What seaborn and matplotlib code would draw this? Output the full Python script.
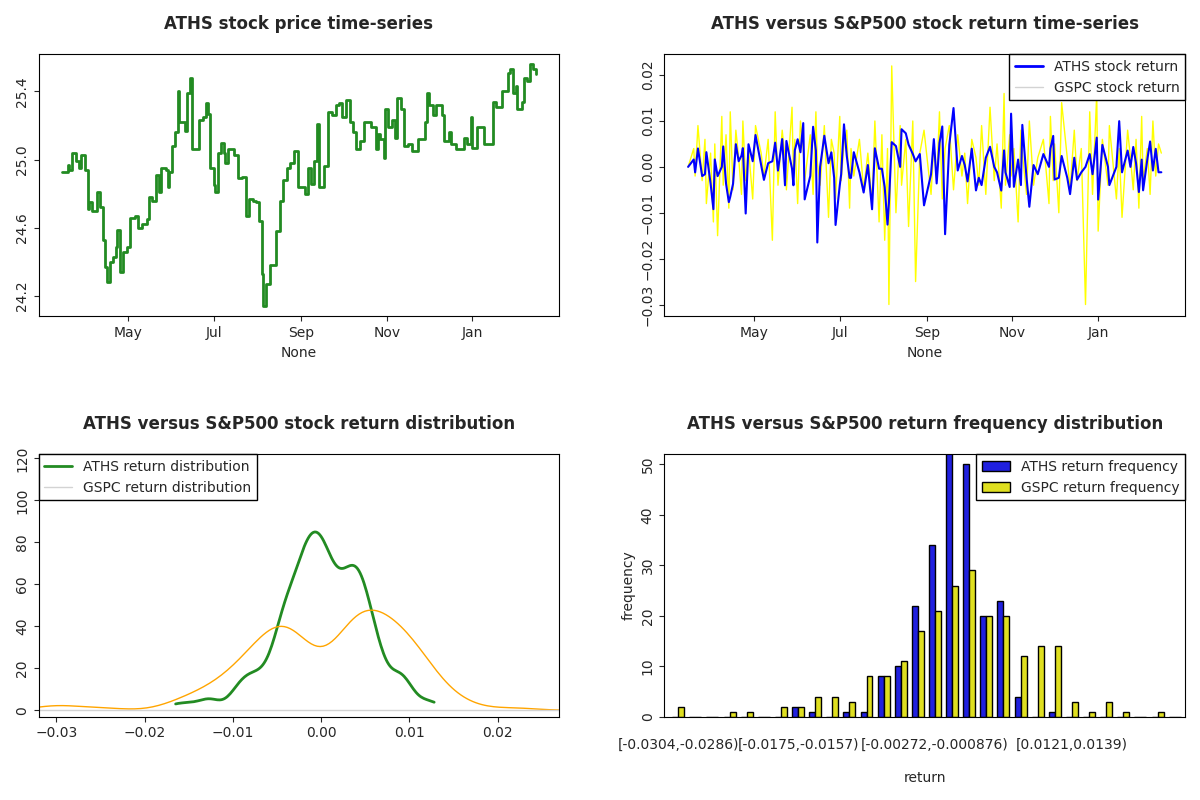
import pandas as pd
import numpy as np
import matplotlib.pyplot as plt
import matplotlib.dates as mdates
from matplotlib.lines import Line2D
import seaborn as sns

# ATHS price (day offset from start, price)
start = pd.Timestamp('2017-03-15')
days = [0, 4, 5, 7, 10, 12, 13, 16, 18, 19, 21, 24, 25, 27, 29, 30, 32, 34, 36, 38, 39, 41, 43, 46, 48,
        52, 54, 57, 60, 62, 64, 67, 69, 70, 74, 75, 76, 78, 80, 82, 83, 87, 89, 91, 92, 94, 97, 100, 102,
        104, 105, 108, 109, 111, 113, 115, 116, 118, 122, 125, 128, 131, 133, 136, 138, 140, 142, 143, 145,
        148, 151, 152, 155, 157, 160, 162, 165, 168, 173, 175, 177, 179, 181, 183, 186, 189, 192, 195, 197,
        199, 202, 205, 207, 209, 212, 215, 218, 220, 223, 225, 226, 229, 230, 232, 235, 237, 238, 241, 243,
        246, 249, 253, 257, 258, 260, 261, 264, 266, 270, 272, 275, 277, 280, 283, 286, 288, 291, 292, 295,
        299, 300, 305, 307, 309, 313, 315, 317, 319, 321, 323, 324, 327, 329, 331, 333, 335, 337]
price = [24.93, 24.97, 24.94, 25.04, 24.99, 24.95, 25.03, 24.94, 24.71, 24.75, 24.70, 24.70, 24.81, 24.72,
         24.53, 24.37, 24.28, 24.40, 24.43, 24.49, 24.59, 24.34, 24.46, 24.49, 24.66, 24.67, 24.60, 24.62,
         24.65, 24.78, 24.76, 24.91, 24.81, 24.95, 24.94, 24.84, 24.93, 25.08, 25.16, 25.40, 25.22, 25.17,
         25.39, 25.48, 25.06, 25.06, 25.23, 25.25, 25.33, 25.27, 24.95, 24.85, 24.81, 25.04, 25.10, 25.04,
         24.98, 25.06, 25.03, 24.89, 24.90, 24.67, 24.77, 24.76, 24.75, 24.64, 24.33, 24.14, 24.27, 24.38,
         24.38, 24.58, 24.76, 24.88, 24.95, 24.98, 25.05, 24.84, 24.80, 24.95, 24.86, 24.99, 25.21, 24.84,
         24.96, 25.28, 25.26, 25.32, 25.33, 25.25, 25.35, 25.22, 25.16, 25.06, 25.11, 25.22, 25.22, 25.19,
         25.06, 25.15, 25.12, 25.01, 25.30, 25.19, 25.23, 25.13, 25.36, 25.30, 25.08, 25.09, 25.05, 25.12,
         25.12, 25.22, 25.39, 25.32, 25.26, 25.32, 25.26, 25.11, 25.16, 25.09, 25.06, 25.06, 25.13, 25.09,
         25.25, 25.07, 25.19, 25.19, 25.09, 25.09, 25.34, 25.31, 25.40, 25.40, 25.51, 25.53, 25.39, 25.43,
         25.30, 25.34, 25.48, 25.46, 25.56, 25.53, 25.50]
# GSPC daily return
gspc_ret = [0.000, 0.004, -0.002, 0.009, -0.003, 0.006, -0.008, 0.003, -0.012, 0.005, -0.015, 0.011,
            -0.004, 0.007, -0.009, 0.012, -0.005, 0.008, 0.002, -0.006, 0.010, -0.003, 0.004, -0.007,
            0.009, 0.003, -0.002, 0.006, -0.016, 0.012, -0.004, 0.008, 0.002, -0.005, 0.013, -0.002,
            0.006, -0.008, 0.010, 0.004, -0.003, 0.007, -0.006, 0.012, 0.001, -0.004, 0.009, -0.011,
            0.006, 0.003, -0.007, 0.011, -0.003, 0.005, 0.008, -0.009, 0.004, -0.002, 0.006, -0.005,
            0.003, -0.008, 0.010, -0.012, 0.007, -0.016, 0.004, -0.030, 0.022, -0.010, 0.009, -0.004,
            0.006, -0.013, 0.010, -0.025, 0.003, 0.008, -0.006, 0.005, -0.003, 0.012, -0.007, 0.004,
            0.009, -0.005, 0.007, -0.002, 0.003, -0.008, 0.006, 0.002, -0.004, 0.009, -0.006, 0.013,
            -0.003, 0.005, -0.009, 0.016, -0.004, 0.007, -0.002, 0.004, -0.012, 0.008, 0.003, -0.006,
            0.010, -0.004, 0.002, 0.006, -0.008, 0.011, -0.003, 0.005, -0.010, 0.014, 0.002, -0.005,
            0.008, -0.003, 0.004, -0.030, 0.012, -0.006, 0.016, -0.014, 0.006, -0.004, 0.009, -0.007,
            0.004, -0.011, 0.008, 0.002, -0.005, 0.006, -0.009, 0.011, -0.003, 0.004, -0.006, 0.010,
            -0.002, 0.005, 0.003]

# histogram counts
hist_aths = [0, 0, 0, 0, 0, 0, 0, 2, 1, 0, 1, 1, 8, 10, 22, 34, 55, 50, 20, 23, 4, 0, 1, 0, 0, 0, 0, 0, 0, 0]
hist_gspc = [2, 0, 0, 1, 1, 0, 2, 2, 4, 4, 3, 8, 8, 11, 17, 21, 26, 29, 20, 20, 12, 14, 14, 3, 1, 3, 1, 0, 1, 0]
bin_labels = {0: '[-0.0304,-0.0286)', 7: '[-0.0175,-0.0157)', 15: '[-0.00272,-0.000876)', 23: '[0.0121,0.0139)'}

dates = start + pd.to_timedelta(days, unit='D')
aths = pd.Series(price, index=dates)
aths_ret = aths.pct_change().fillna(0)
gspc = pd.Series(gspc_ret, index=dates)

sns.set_style('ticks')
plt.rcParams['font.family'] = ['DejaVu Sans']
fig, axes = plt.subplots(2, 2, figsize=(12, 8), dpi=100)

def r_style(ax):
    for s in ax.spines.values():
        s.set_visible(True)
        s.set_color('black')
    ax.tick_params(axis='y', labelrotation=90, labelsize=10)
    ax.tick_params(axis='x', labelsize=10)
    for t in ax.get_yticklabels():
        t.set_va('center')

month_loc = mdates.MonthLocator(bymonth=[5, 7, 9, 11, 1])

ax = axes[0, 0]
sns.lineplot(x=aths.index, y=aths.values, ax=ax, color='forestgreen', linewidth=2, drawstyle='steps-post')
ax.set_title('ATHS stock price time-series', fontweight='bold', fontsize=12, pad=18)
ax.xaxis.set_major_locator(month_loc)
ax.xaxis.set_major_formatter(mdates.DateFormatter('%b'))
ax.set_yticks([24.2, 24.6, 25.0, 25.4])
ax.set_ylim(24.08, 25.62)
r_style(ax)

ax = axes[0, 1]
sns.lineplot(x=gspc.index, y=gspc.values, ax=ax, color='yellow', linewidth=1)
sns.lineplot(x=aths_ret.index, y=aths_ret.values, ax=ax, color='blue', linewidth=1.5)
ax.set_title('ATHS versus S&P500 stock return time-series', fontweight='bold', fontsize=12, pad=18)
ax.xaxis.set_major_locator(month_loc)
ax.xaxis.set_major_formatter(mdates.DateFormatter('%b'))
ax.set_yticks([-0.03, -0.02, -0.01, 0.0, 0.01, 0.02])
ax.legend([Line2D([], [], color='blue', lw=2), Line2D([], [], color='lightgrey', lw=1)],
          ['ATHS stock return', 'GSPC stock return'], loc='upper right', fancybox=False,
          edgecolor='black', framealpha=1, borderaxespad=0)
r_style(ax)

ax = axes[1, 0]
sns.kdeplot(x=aths_ret.values, ax=ax, color='forestgreen', linewidth=2, bw_adjust=0.6, cut=0)
sns.kdeplot(x=gspc.values, ax=ax, color='orange', linewidth=1, bw_adjust=0.8, cut=3)
ax.axhline(0, color='lightgrey', linewidth=1)
ax.set_xlim(-0.032, 0.027)
ax.set_ylim(-3, 122)
ax.set_ylabel('')
ax.set_title('ATHS versus S&P500 stock return distribution', fontweight='bold', fontsize=12, pad=18)
ax.legend([Line2D([], [], color='forestgreen', lw=2), Line2D([], [], color='lightgrey', lw=1)],
          ['ATHS return distribution', 'GSPC return distribution'], loc='upper left', fancybox=False,
          edgecolor='black', framealpha=1, borderaxespad=0)
r_style(ax)

ax = axes[1, 1]
hist_df = pd.DataFrame({
    'bin': list(range(len(hist_aths))) * 2,
    'count': hist_aths + hist_gspc,
    'series': ['ATHS return frequency'] * len(hist_aths) + ['GSPC return frequency'] * len(hist_gspc),
})
sns.barplot(data=hist_df, x='bin', y='count', hue='series', palette=['blue', 'yellow'],
            edgecolor='black', linewidth=1, width=0.7, ax=ax)
ax.set_xticks(list(bin_labels.keys()))
ax.set_xticklabels(list(bin_labels.values()))
ax.tick_params(axis='x', length=0, pad=15)
ax.set_ylim(0, 52)
ax.set_xlim(-0.8, 29.6)
ax.set_yticks([0, 10, 20, 30, 40, 50])
ax.set_xlabel('return', labelpad=14)
ax.set_ylabel('frequency')
ax.set_title('ATHS versus S&P500 return frequency distribution', fontweight='bold', fontsize=12, pad=18)
ax.legend(title=None, loc='upper right', fancybox=False, edgecolor='black', framealpha=1, borderaxespad=0)
r_style(ax)

plt.tight_layout(h_pad=4, w_pad=4)
plt.savefig('out.png', dpi=100)
